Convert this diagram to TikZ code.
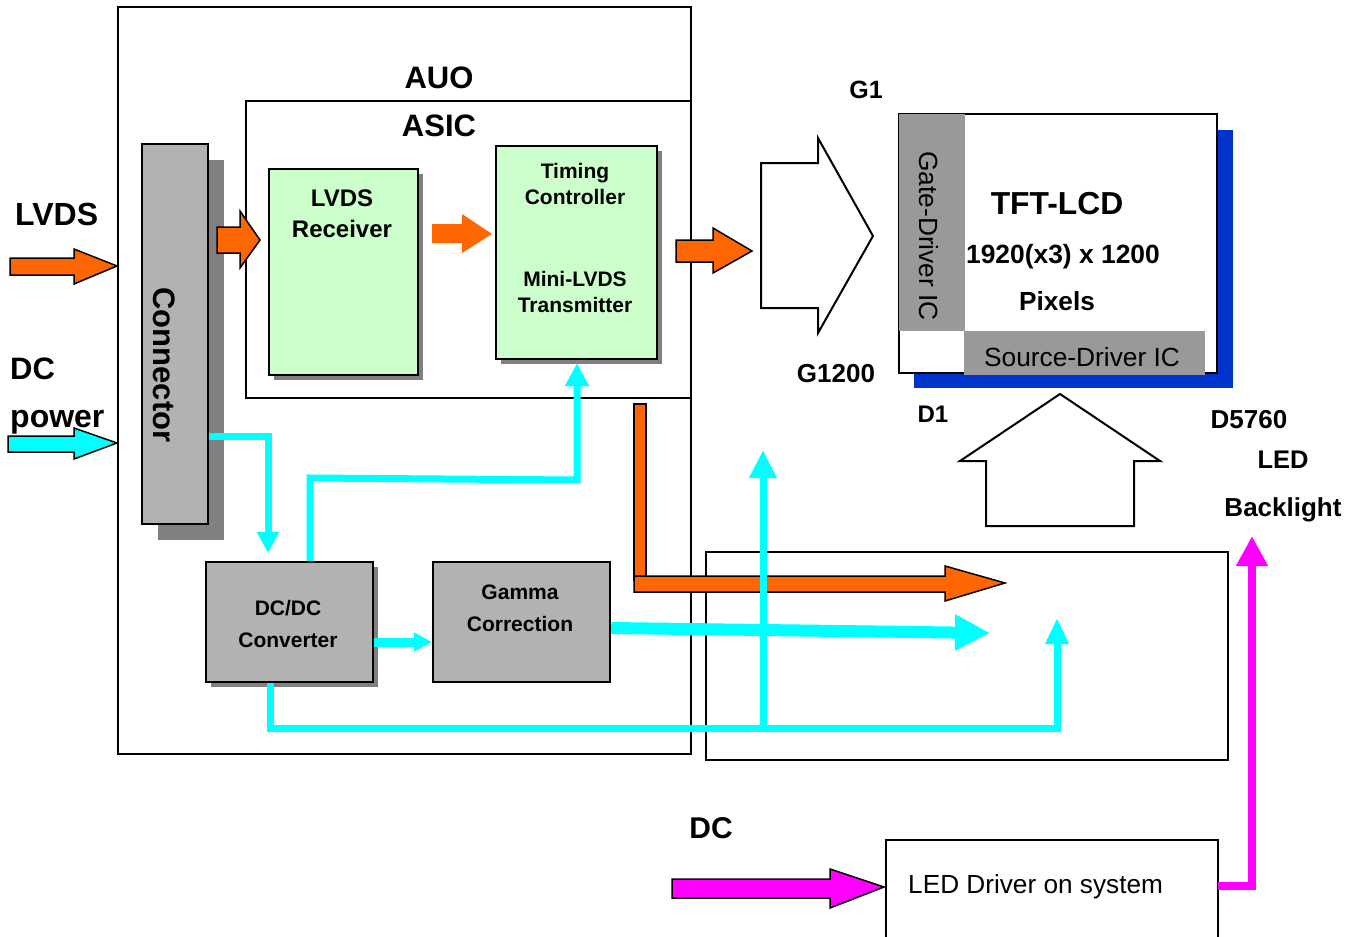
\documentclass[tikz,border=0pt]{standalone}
\usepackage{fontspec}
\setmainfont{Liberation Sans}
\usetikzlibrary{arrows.meta,shadows}
\definecolor{org}{HTML}{FF6600}
\definecolor{cyn}{HTML}{00FFFF}
\definecolor{mag}{HTML}{FF00FF}
\definecolor{grayA}{HTML}{B2B2B2}
\definecolor{grayS}{HTML}{808080}
\definecolor{grayD}{HTML}{999999}
\definecolor{grn}{HTML}{CCFFCC}
\definecolor{blu}{HTML}{0033CC}
\newcommand\myfs[1]{\fontsize{#1}{#1}\selectfont}
\begin{document}
\begin{tikzpicture}[x=1pt,y=-1pt,
  frame/.style={draw=black,line width=1.5pt,inner sep=0pt,anchor=north west},
  blockbox/.style={draw=black,line width=2.2pt,inner sep=0pt,anchor=north west},
  shad/.style={general shadow={fill=grayS,shadow xshift=#1,shadow yshift=-#1}},
  lbl/.style={inner sep=0pt,anchor=base},
  bl/.style={lbl,font=\bfseries\myfs{#1}},
  rg/.style={lbl,font=\myfs{#1}},
  oarrow/.style={fill=org,draw=black,line width=1.5pt},
  hollow/.style={fill=white,draw=black,line width=2pt},
  cline/.style={draw=cyn,line width=#1},
  ctip/.style={-{Triangle[width=#1,length=#1]}},
]
\useasboundingbox (0,0) rectangle (1361,937);
% frames
\node[frame,minimum width=573pt,minimum height=747pt] (auo) at (117,6) {};
\node[frame,minimum width=522pt,minimum height=208pt] (lowbox) at (705,551) {};
\node[blockbox,line width=2pt,minimum width=445pt,minimum height=297pt] (asic) at (245,100) {};
\node[bl=31] (auolbl) at (439,88) {AUO};
\node[bl=31] (asiclbl) at (439,136) {ASIC};
% connector
\node[blockbox,fill=grayA,shad=15.5pt,minimum width=66pt,minimum height=380pt] (conn) at (141,143) {};
\node[inner sep=0pt,rotate=-90,font=\bfseries\myfs{31}] (connlbl) at (164,365) {Connector};
% receiver and timing controller
\node[blockbox,fill=grn,shad=5pt,minimum width=149pt,minimum height=206pt] (rx) at (268,168) {};
\node[bl=24] (rx1) at (342,206) {LVDS};
\node[bl=24] (rx2) at (342,237) {Receiver};
\node[blockbox,fill=grn,shad=5pt,minimum width=161pt,minimum height=213pt] (tcon) at (495,145) {};
\node[bl=21] (tc1) at (575,178) {Timing};
\node[bl=21] (tc2) at (575,204) {Controller};
\node[bl=21] (tc3) at (575,286) {Mini-LVDS};
\node[bl=21] (tc4) at (575,312) {Transmitter};
% DC/DC and gamma
\node[blockbox,fill=grayA,shad=5pt,minimum width=167pt,minimum height=120pt] (dcdc) at (205,561) {};
\node[bl=21] (dc1) at (288,615) {DC/DC};
\node[bl=21] (dc2) at (288,647) {Converter};
\node[blockbox,fill=grayA,minimum width=177pt,minimum height=120pt] (gamma) at (432,561) {};
\node[bl=21] (gm1) at (520,599) {Gamma};
\node[bl=21] (gm2) at (520,631) {Correction};
% TFT-LCD
\fill[blu] (914,130) rectangle (1233,388);
\node[blockbox,fill=white,line width=2pt,minimum width=318pt,minimum height=259pt] (tft) at (898,113) {};
\fill[grayD] (899,114) rectangle (965,331);
\node[inner sep=0pt,fill=grayD,anchor=north west,minimum width=241pt,minimum height=44pt] (src) at (964,331) {};
\node[inner sep=0pt,rotate=-90,font=\myfs{26.3}] (gatelbl) at (929,236) {Gate-Driver IC};
\node[rg=26.3] (srclbl) at (1082,366) {Source-Driver IC};
\node[bl=31.8] (tft1) at (1057,214) {TFT-LCD};
\node[bl=26.4] (tft2) at (1063,263) {1920(x3) x 1200};
\node[bl=26.2] (tft3) at (1057,310) {Pixels};
% labels
\node[bl=25] (g1) at (866,98) {G1};
\node[bl=26] (g1200) at (836,382) {G1200};
\node[bl=24] (d1) at (933,422) {D1};
\node[bl=26] (d5760) at (1249,428) {D5760};
\node[bl=25.5] (led) at (1283,468) {LED};
\node[bl=26] (bklt) at (1283,516) {Backlight};
\node[bl=32,anchor=base west] (lvdslbl) at (15,225) {LVDS};
\node[bl=31,anchor=base west] (dclbl) at (10,379) {DC};
\node[bl=32,anchor=base west] (pwrlbl) at (10,427) {power};
\node[bl=30] (dc2lbl) at (711,838) {DC};
% LED driver
\draw[line width=2pt] (886,950) -- (886,840) -- (1218,840) -- (1218,950);
\coordinate (ledd) at (886,840);
\node[rg=26.2,anchor=base west] (ledlbl) at (908,893) {LED Driver on system};
% hollow arrows
\draw[hollow] (761,163) -- (818,163) -- (818,138) -- (873,236) -- (818,333) -- (818,308) -- (761,308) -- cycle;
\draw[hollow] (1060,394) -- (1160,461) -- (1134,461) -- (1134,526) -- (986,526) -- (986,461) -- (960,461) -- cycle;
% orange block arrows
\filldraw[oarrow] (10,258) -- (74,258) -- (74,249) -- (117,266) -- (74,284) -- (74,275) -- (10,275) -- cycle;
\filldraw[oarrow] (217,227) -- (240,227) -- (240,211) -- (260,240) -- (240,268) -- (240,253) -- (217,253) -- cycle;
\fill[org] (432,224) -- (462,224) -- (462,214) -- (492,234) -- (462,253) -- (462,243) -- (432,243) -- cycle;
\filldraw[oarrow] (676,240) -- (713,240) -- (713,228) -- (752,251) -- (713,273) -- (713,262) -- (676,262) -- cycle;
\filldraw[oarrow] (634,404) rectangle (646,580);
\filldraw[oarrow] (634,576) -- (945,576) -- (945,566) -- (1005,583) -- (945,601) -- (945,592) -- (634,592) -- cycle;
% DC power arrow
\filldraw[fill=cyn,draw=black,line width=1.5pt] (8,436) -- (74,436) -- (74,428) -- (117,443) -- (74,459) -- (74,452) -- (8,452) -- cycle;
% magenta DC arrow
\filldraw[fill=mag,draw=black,line width=1.5pt] (672,879) -- (830,879) -- (830,869) -- (884,887) -- (830,908) -- (830,898) -- (672,898) -- cycle;
% cyan connectors
\coordinate (k1) at (268,436);
\coordinate (k2) at (310,478);
\coordinate (k3) at (577,480);
\coordinate (k4) at (270,728);
\coordinate (k5) at (1057,728);
\coordinate (k6) at (763,728);
\coordinate (k7) at (990,633);
\coordinate (k8) at (1057,618);
\coordinate (k9) at (763,450);
\draw[cline=7pt,ctip=21pt,shorten >=8pt] (conn.east |- k1) -- (k1) -- (k1 |- dcdc.north);
\draw[cline=7pt,ctip=23pt,shorten >=3pt] (k2 |- dcdc.north) -- (k2) -- (k3) -- (k3 |- tcon.south);
\draw[cline=9pt,ctip=18pt] (dcdc.east |- 0,642) -- (gamma.west |- 0,642);
\draw[cline=12pt,-{Triangle[width=34pt,length=35pt]}] (gamma.east |- 0,628) -- (k7);
\draw[cline=7pt,-{Triangle[width=22pt,length=26pt]}] (k4 |- dcdc.south) -- (k4) -- (k5) -- (k8);
\draw[cline=7pt,-{Triangle[width=26pt,length=28pt]}] (k6) -- (k9);
% magenta connector
\coordinate (m1) at (1252,886);
\coordinate (m2) at (1252,536);
\draw[draw=mag,line width=8pt,-{Triangle[width=30pt,length=30pt]}] (1218,886) -- (m1) -- (m2);
\end{tikzpicture}
\end{document}
